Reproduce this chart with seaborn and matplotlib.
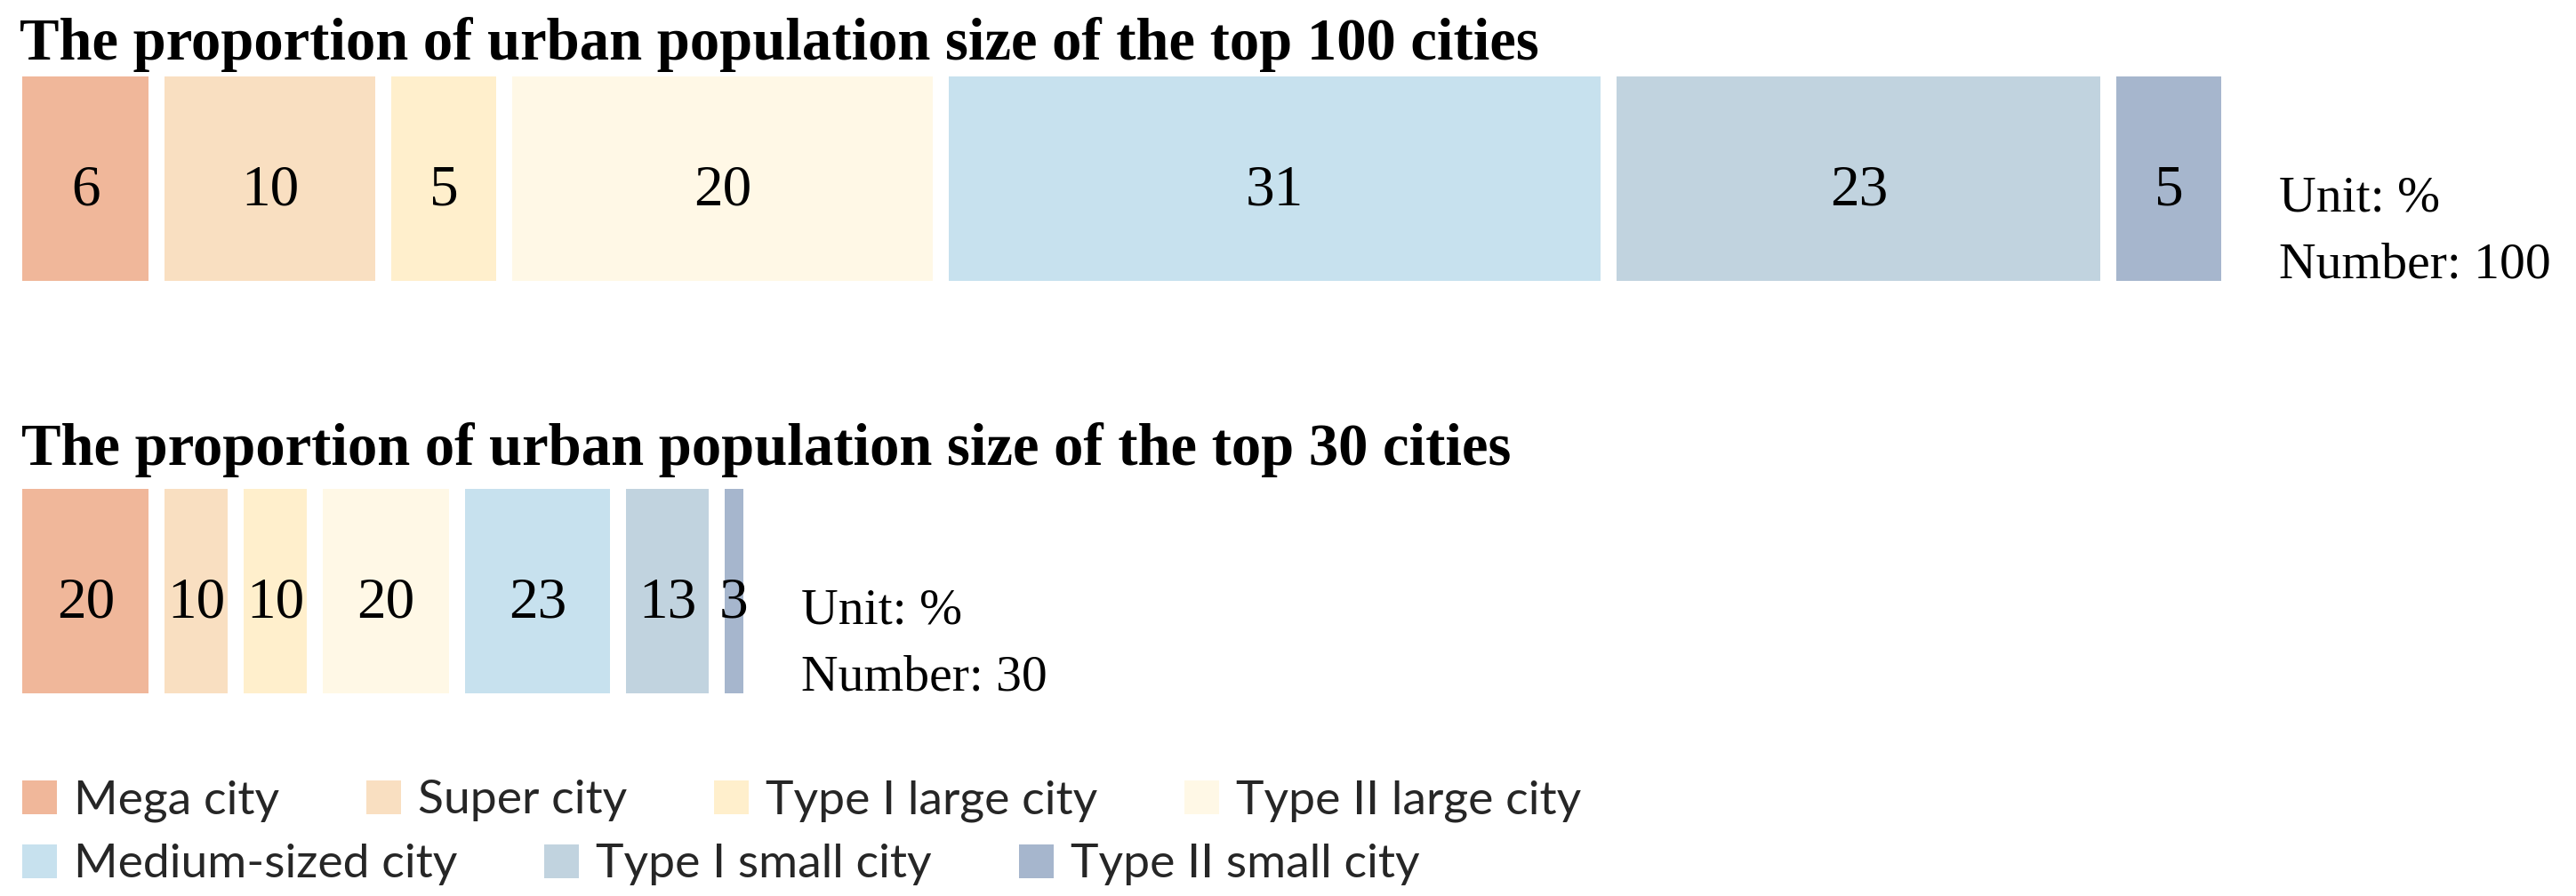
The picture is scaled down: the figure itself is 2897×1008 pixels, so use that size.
import numpy as np
import pandas as pd
import seaborn as sns
import matplotlib.pyplot as plt
from matplotlib.patches import Patch

categories = ["Mega city", "Super city", "Type I large city", "Type II large city",
              "Medium-sized city", "Type I small city", "Type II small city"]
colors = ["#F0B79A", "#F9DFC1", "#FFEFCC", "#FFF8E6", "#C7E1EE", "#C1D3DF", "#A6B6CD"]
groups = ["top 100", "top 30"]
numbers = [100, 30]
share_top100 = [6, 10, 5, 20, 31, 23, 5]
share_top30 = [20, 10, 10, 20, 23, 13, 3]
titles = ["The proportion of urban population size of the top 100 cities",
          "The proportion of urban population size of the top 30 cities"]

W, H, DPI = 2897, 1008, 100
PX_PER_CITY = 23.65          # horizontal scale, pixels per city
GAP_PX = 18                  # white gap between segments
GAP = GAP_PX / PX_PER_CITY
ROW_PX = 464                 # distance between the two bar centres
BAR_PX = 230

sns.set_theme(style="white")
serif = ["Liberation Serif", "DejaVu Serif"]

# segment widths are numbers of cities (share * number / 100); bars are
# overlaid from the longest to the shortest and the white edge makes the gaps
rows = []
for grp, num, shares in zip(groups, numbers, [share_top100, share_top30]):
    cities = np.array(shares) * num / 100
    ends = np.cumsum(cities + GAP)
    for cat, share, end in zip(categories, shares, ends):
        rows.append({"group": grp, "category": cat, "share": share, "end": end})
df = pd.DataFrame(rows)

fig = plt.figure(figsize=(W / DPI, H / DPI), dpi=DPI)
ax = fig.add_axes([0, 0, 1, 1])
sns.barplot(data=df, x="end", y="group", hue="category", order=groups,
            hue_order=categories[::-1], palette=dict(zip(categories, colors)),
            dodge=False, saturation=1, width=(BAR_PX + GAP_PX) / ROW_PX,
            edgecolor="white", linewidth=GAP_PX * 72 / DPI, errorbar=None,
            legend=False, ax=ax)
x0 = GAP / 2 - 25.5 / PX_PER_CITY
ax.set_xlim(x0, x0 + W / PX_PER_CITY)
ax.set_ylim((H - 201) / ROW_PX, -201 / ROW_PX)
ax.set_axis_off()

for gi, grp in enumerate(groups):
    sub = df[df["group"] == grp]
    ends = sub["end"].to_numpy()
    starts = np.concatenate([[0], ends[:-1]])
    for s, e, share in zip(starts, ends, sub["share"]):
        ax.annotate(str(share), xy=((s + e) / 2, gi), xytext=(0, -29),
                    textcoords="offset pixels", ha="center", va="baseline",
                    fontsize=47, family=serif, color="black")
    ax.annotate("Unit: %", xy=(ends[-1], gi), xytext=(56, -36),
                textcoords="offset pixels", ha="left", va="baseline",
                fontsize=41.5, family=serif, color="black")
    ax.annotate(f"Number: {numbers[gi]}", xy=(ends[-1], gi), xytext=(56, -111),
                textcoords="offset pixels", ha="left", va="baseline",
                fontsize=41.5, family=serif, color="black")

fig.text(22 / W, 1 - 67 / H, titles[0], ha="left", va="baseline",
         fontsize=48, fontweight="bold", family=serif, color="black")
fig.text(24 / W, 1 - 523 / H, titles[1], ha="left", va="baseline",
         fontsize=48, fontweight="bold", family=serif, color="black")

handles = [Patch(facecolor=c, edgecolor="none") for c in colors]
leg_kw = dict(loc="upper left", frameon=False, borderpad=0, borderaxespad=0,
              handlelength=0.73, handleheight=0.73, handletextpad=0.355,
              columnspacing=1.83, prop={"family": ["Lato", "DejaVu Sans"], "size": 38.5})
fig.legend(handles[:4], categories[:4], ncol=4,
           bbox_to_anchor=(25 / W, 1 - 877.5 / H), **leg_kw)
fig.legend(handles[4:], categories[4:], ncol=3,
           bbox_to_anchor=(25 / W, 1 - 949.5 / H), **leg_kw)

fig.savefig("out.png", dpi=DPI)
